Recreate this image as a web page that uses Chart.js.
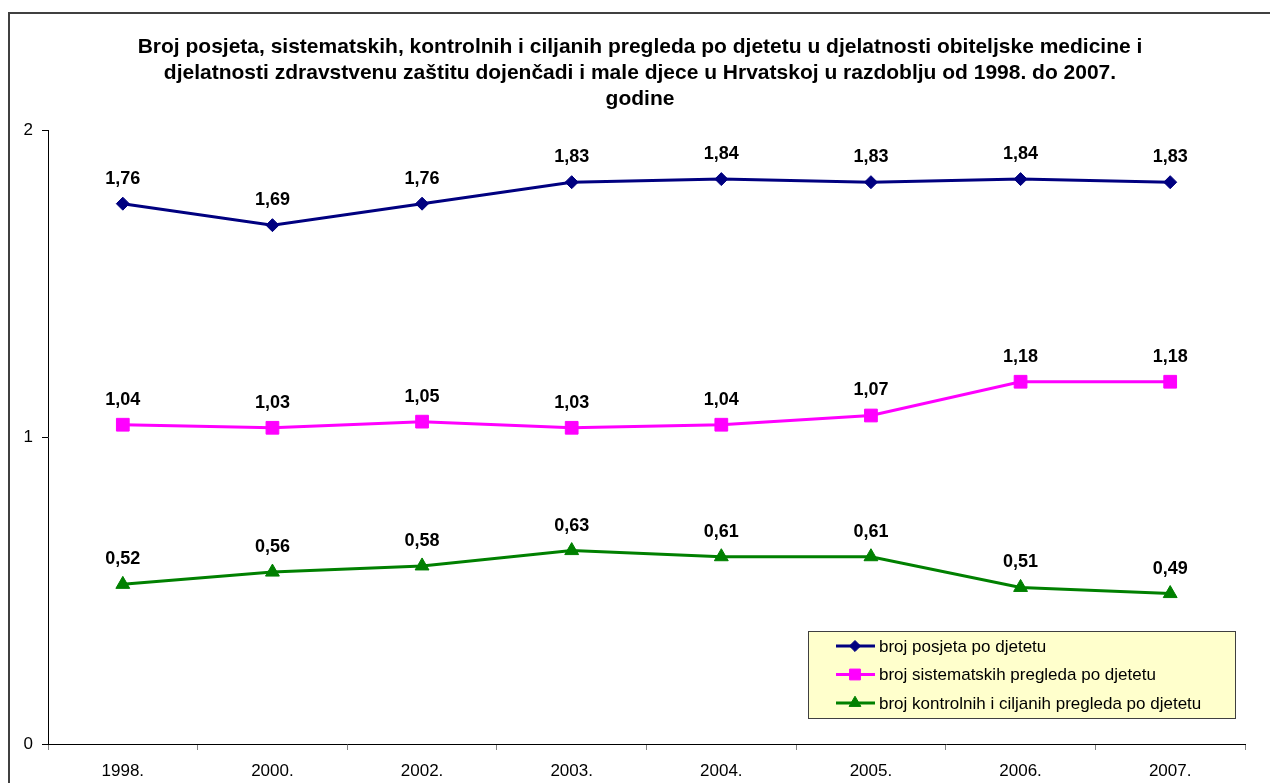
<!DOCTYPE html>
<html>
<head>
<meta charset="utf-8">
<script src="https://cdn.jsdelivr.net/npm/chart.js@4/dist/chart.umd.min.js"></script>
<style>
html,body{margin:0;padding:0;background:#fff;}
canvas{display:block;}
</style>
</head>
<body>
<canvas id="c" width="1270" height="783"></canvas>
<script>
const categories = ['1998.', '2000.', '2002.', '2003.', '2004.', '2005.', '2006.', '2007.'];
const posjete = [1.76, 1.69, 1.76, 1.83, 1.84, 1.83, 1.84, 1.83];
const sistematski = [1.04, 1.03, 1.05, 1.03, 1.04, 1.07, 1.18, 1.18];
const kontrolni = [0.52, 0.56, 0.58, 0.63, 0.61, 0.61, 0.51, 0.49];
const seriesNames = ['broj posjeta po djetetu', 'broj sistematskih pregleda po djetetu', 'broj kontrolnih i ciljanih pregleda po djetetu'];
const yTicks = [0, 1, 2];
const titleLines = [
  'Broj posjeta, sistematskih, kontrolnih i ciljanih pregleda po djetetu u djelatnosti obiteljske medicine i',
  'djelatnosti zdravstvenu zaštitu dojenčadi i male djece u Hrvatskoj u razdoblju od 1998. do 2007.',
  'godine'
];

const FONT = '"Liberation Sans", Arial, sans-serif';

const frame = {
  id: 'frame',
  beforeDraw(chart) {
    const ctx = chart.ctx;
    ctx.save();
    ctx.fillStyle = '#fff';
    ctx.fillRect(0, 0, chart.width, chart.height);
    ctx.strokeStyle = '#404040';
    ctx.lineWidth = 2;
    ctx.strokeRect(9, 13, chart.width + 50, chart.height + 50);
    // title
    ctx.fillStyle = '#000';
    ctx.font = 'bold 21px ' + FONT;
    ctx.textAlign = 'center';
    ctx.textBaseline = 'middle';
    titleLines.forEach((t, i) => ctx.fillText(t, 640, 47 + i * 26));
    ctx.restore();
  }
};

const labels = {
  id: 'valueLabels',
  afterDatasetsDraw(chart) {
    const ctx = chart.ctx;
    ctx.save();
    ctx.font = 'bold 18px ' + FONT;
    ctx.fillStyle = '#000';
    ctx.textAlign = 'center';
    ctx.textBaseline = 'middle';
    chart.data.datasets.forEach((ds, i) => {
      const meta = chart.getDatasetMeta(i);
      meta.data.forEach((pt, j) => {
        const txt = ds.data[j].toFixed(2).replace('.', ',');
        ctx.fillText(txt, pt.x, pt.y - 25);
      });
    });
    ctx.restore();
  }
};

const legendBox = {
  id: 'legendBox',
  afterDraw(chart) {
    const ctx = chart.ctx;
    const a = chart.chartArea;
    const right = a.right - 10, bottom = a.bottom - 26;
    const w = 427, h = 87;
    const left = right - w, top = bottom - h;
    ctx.save();
    ctx.fillStyle = '#FFFFCC';
    ctx.fillRect(left, top, w, h);
    ctx.strokeStyle = '#404040';
    ctx.lineWidth = 1;
    ctx.strokeRect(left + 0.5, top + 0.5, w, h);
    ctx.font = '17px ' + FONT;
    ctx.textBaseline = 'middle';
    ctx.textAlign = 'left';
    chart.data.datasets.forEach((ds, i) => {
      const y = top + 15 + i * 28.5;
      ctx.strokeStyle = ds.borderColor;
      ctx.lineWidth = 3;
      ctx.beginPath();
      ctx.moveTo(left + 28, y);
      ctx.lineTo(left + 67, y);
      ctx.stroke();
      ctx.fillStyle = ds.backgroundColor;
      ctx.strokeStyle = ds.borderColor;
      ctx.lineWidth = 1;
      const r = ds.pointRadius * 0.85;
      if (Chart.helpers && Chart.helpers.drawPoint) {
        Chart.helpers.drawPoint(ctx, {pointStyle: ds.pointStyle, rotation: 0, radius: r, borderWidth: 1}, left + 47, y);
      }
      ctx.fillStyle = '#000';
      ctx.fillText(ds.label, left + 71, y + 1);
    });
    ctx.restore();
  }
};

function mk(label, data, color, style, r) {
  return {
    label, data,
    borderColor: color, backgroundColor: color,
    pointBackgroundColor: color, pointBorderColor: color,
    borderWidth: 3, pointStyle: style, pointRadius: r, pointHoverRadius: r,
    pointBorderWidth: 1, tension: 0, fill: false
  };
}

new Chart(document.getElementById('c'), {
  type: 'line',
  data: {
    labels: categories,
    datasets: [
      mk(seriesNames[0], posjete, '#000080', 'rectRot', 6.5),
      mk(seriesNames[1], sistematski, '#FF00FF', 'rect', 9),
      mk(seriesNames[2], kontrolni, '#008000', 'triangle', 8)
    ]
  },
  options: {
    responsive: false,
    devicePixelRatio: 1,
    animation: false,
    layout: { padding: { top: 130, right: 25, left: 0, bottom: 0 } },
    plugins: {
      legend: { display: false },
      tooltip: { enabled: false },
      title: { display: false }
    },
    scales: {
      x: {
        offset: true,
        grid: { display: true, drawOnChartArea: false, drawTicks: true, tickLength: 6, offset: true, color: '#808080' },
        border: { display: true, color: '#000', width: 1 },
        ticks: { color: '#000', font: { family: FONT, size: 17 }, padding: 11, maxRotation: 0, autoSkip: false },
        afterFit(s) { s.height = 39; }
      },
      y: {
        min: 0, max: 2,
        afterBuildTicks(s) { s.ticks = yTicks.map(v => ({ value: v })); },
        grid: { display: true, drawOnChartArea: false, drawTicks: true, tickLength: 6, color: '#000' },
        border: { display: true, color: '#000', width: 1 },
        ticks: { color: '#000', font: { family: FONT, size: 17 }, padding: 9 },
        afterFit(s) { s.width = 48; }
      }
    }
  },
  plugins: [frame, labels, legendBox]
});
</script>
</body>
</html>
